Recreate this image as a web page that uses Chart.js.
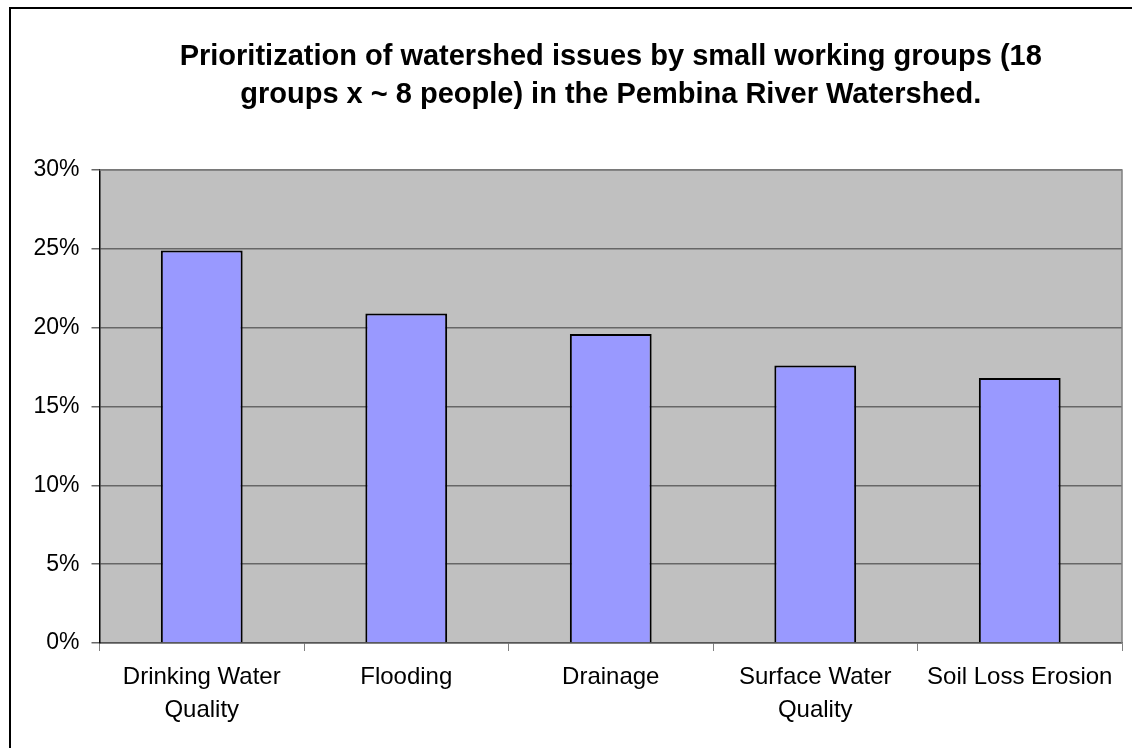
<!DOCTYPE html>
<html>
<head>
<meta charset="utf-8">
<script src="https://cdn.jsdelivr.net/npm/chart.js@4/dist/chart.umd.min.js"></script>
<style>
  html, body { margin: 0; padding: 0; background: #fff; }
  #wrap { width: 1132px; height: 748px; position: relative; }
</style>
</head>
<body>
<div id="wrap"><canvas id="myChart" width="1132" height="748"></canvas></div>
<script>
// data
var categories = [['Drinking Water', 'Quality'], 'Flooding', 'Drainage', ['Surface Water', 'Quality'], 'Soil Loss Erosion'];
var shares = [24.9, 20.9, 19.6, 17.6, 16.8];
var yTicks = [0, 5, 10, 15, 20, 25, 30];

var titleLines = ['Prioritization of watershed issues by small working groups (18',
                  'groups x ~ 8 people) in the Pembina River Watershed.'];

// grey plot area + outer frame
var backdrop = {
    id: 'backdrop',
    beforeDraw: function (chart) {
        var c = chart.ctx, a = chart.chartArea;
        c.save();
        c.fillStyle = '#C0C0C0';
        c.fillRect(a.left, a.top, a.right - a.left, a.bottom - a.top);
        c.strokeStyle = '#000';
        c.lineWidth = 2;
        c.beginPath();
        c.moveTo(10, 760);
        c.lineTo(10, 8);
        c.lineTo(1140, 8);
        c.stroke();
        c.restore();
    },
    afterDatasetsDraw: function (chart) {
        var c = chart.ctx, a = chart.chartArea;
        c.save();
        c.strokeStyle = '#808080';
        c.lineWidth = 1.5;
        c.beginPath();
        c.moveTo(a.left, a.top);
        c.lineTo(a.right, a.top);
        c.lineTo(a.right, a.bottom);
        c.stroke();
        c.restore();
    }
};

var ctx = document.getElementById('myChart').getContext('2d');
var chart = new Chart(ctx, {
    type: 'bar',
    data: {
        labels: categories,
        datasets: [{
            data: shares,
            backgroundColor: '#9999FF',
            borderColor: '#000',
            borderWidth: 2,
            categoryPercentage: 0.4,
            barPercentage: 1.0
        }]
    },
    options: {
        responsive: false,
        animation: false,
        layout: { padding: { left: 0, right: 10, top: 0, bottom: 5 } },
        plugins: {
            legend: { display: false },
            tooltip: { enabled: false },
            title: {
                display: true,
                fullSize: false,
                text: titleLines,
                color: '#000',
                font: { family: '"Liberation Sans", Arial, sans-serif', size: 29, weight: 'bold', lineHeight: '38px' },
                padding: { top: 38, bottom: 56 }
            }
        },
        scales: {
            x: {
                grid: { display: true, drawOnChartArea: false, drawTicks: true, tickLength: 8, color: '#808080', offset: true },
                border: { display: true, color: '#555', width: 1.5 },
                ticks: {
                    color: '#000', padding: 10, maxRotation: 0, autoSkip: false,
                    font: { family: '"Liberation Sans", Arial, sans-serif', size: 24, lineHeight: '33px' }
                },
                afterFit: function (s) { s.height = 100; }
            },
            y: {
                min: 0, max: 30,
                afterBuildTicks: function (s) { s.ticks = yTicks.map(function (v) { return { value: v }; }); },
                grid: { color: '#666', lineWidth: 1.5, tickLength: 8, drawTicks: true },
                border: { display: true, color: '#000', width: 1.5 },
                ticks: {
                    color: '#000', padding: 12,
                    font: { family: '"Liberation Sans", Arial, sans-serif', size: 23 },
                    callback: function (v) { return v + '%'; }
                },
                afterFit: function (s) { s.width = 99.5; }
            }
        }
    },
    plugins: [backdrop]
});
</script>
</body>
</html>
